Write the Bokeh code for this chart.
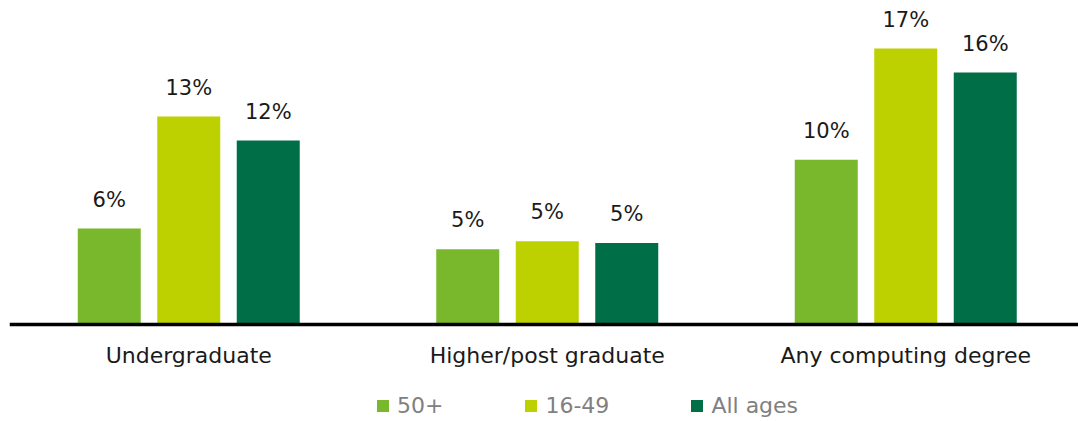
from bokeh.plotting import figure
from bokeh.models import ColumnDataSource, Range1d, Legend, LegendItem, LabelSet
from bokeh.core.properties import value
from bokeh.transform import dodge
from bokeh.embed import file_html
from bokeh.resources import INLINE

categories = ["Undergraduate", "Higher/post graduate", "Any computing degree"]
series = ["50+", "16-49", "All ages"]
v_50plus = [6.0, 4.7, 10.3]
v_16_49 = [13.0, 5.2, 17.25]
v_all = [11.5, 5.1, 15.75]
lbl_50plus = ["6%", "5%", "10%"]
lbl_16_49 = ["13%", "5%", "17%"]
lbl_all = ["12%", "5%", "16%"]
colors = ["#79b82d", "#bdd000", "#006e46"]

xs = list(range(len(categories)))
src = ColumnDataSource(dict(x=xs, a=v_50plus, b=v_16_49, c=v_all,
                            la=lbl_50plus, lb=lbl_16_49, lc=lbl_all))
cat_src = ColumnDataSource(dict(x=xs, y=[0] * len(xs), t=categories))

W, H = 1078, 421
left = 9
group_px = 358.5
px_per_unit = 16.0
base_px = 324
frame_w = W - left
p = figure(width=W, height=H, output_backend="svg", toolbar_location=None,
           x_range=Range1d(-0.5, -0.5 + frame_w / group_px),
           y_range=Range1d(-(H - base_px) / px_per_unit, base_px / px_per_unit),
           min_border_left=left, min_border_right=0, min_border_top=0,
           min_border_bottom=0, x_axis_location=None, y_axis_location=None)
p.outline_line_color = None
p.grid.visible = False
p.background_fill_color = "white"
p.border_fill_color = "white"

FONT = value("DejaVu Sans")
off = 79.5 / group_px
bw = 63 / group_px
renderers = []
for i, (col, lab, c) in enumerate(zip(["a", "b", "c"], ["la", "lb", "lc"], colors)):
    d = (i - 1) * off
    r = p.vbar(x=dodge("x", d, range=p.x_range), top=col, bottom=0, width=bw, source=src,
               color=c, line_color=None)
    renderers.append(r)
    ls = LabelSet(x=dodge("x", d, range=p.x_range), y=col, text=lab, source=src,
                  text_align="center", text_baseline="middle", y_offset=29,
                  text_font=FONT, text_font_size="21px", text_color="#1a1a1a")
    p.add_layout(ls)

p.hspan(y=[0], line_color="black", line_width=3.5)

cat_labels = LabelSet(x="x", y="y", text="t", source=cat_src, text_align="center",
                      text_baseline="middle", y_offset=-31,
                      text_font=FONT, text_font_size="22px", text_color="#1a1a1a")
p.add_layout(cat_labels)

legend = Legend(items=[LegendItem(label=s, renderers=[r]) for s, r in zip(series, renderers)],
                orientation="horizontal", location=(366, 3),
                glyph_width=15, glyph_height=15, label_standoff=7, spacing=80,
                padding=0, margin=0, border_line_color=None, background_fill_alpha=0,
                label_text_font="DejaVu Sans", label_text_font_size="22px",
                label_text_color="#808080", label_height=15)
p.add_layout(legend)

open("out.html", "w").write(file_html(p, INLINE))
